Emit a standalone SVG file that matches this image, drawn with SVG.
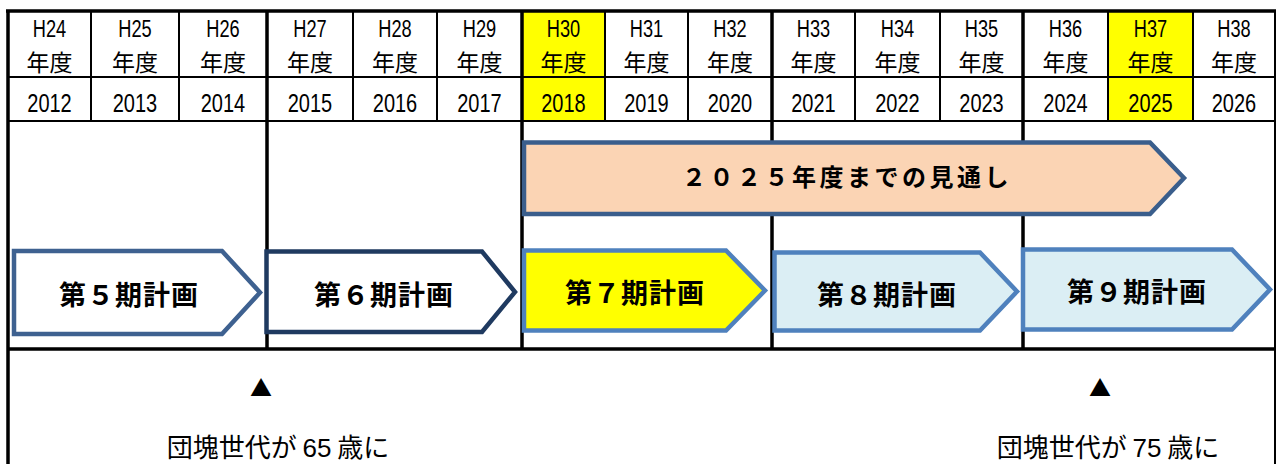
<svg xmlns="http://www.w3.org/2000/svg" width="1276" height="464" viewBox="0 0 1276 464">
<style>
.lat{font-family:"Liberation Sans",Arial,sans-serif;font-size:24px;fill:#000;text-anchor:middle}
.cjk{font-family:"Noto Sans CJK JP",sans-serif;font-size:23px;fill:#000;text-anchor:middle}
.yr{font-family:"Liberation Sans",Arial,sans-serif;font-size:25px;fill:#000;text-anchor:middle}
.thin{stroke:#000;stroke-width:2;fill:none}
.thick{stroke:#000;stroke-width:3.5;fill:none}
.plan{font-family:"Noto Sans CJK JP",sans-serif;font-weight:700;font-size:27px;letter-spacing:1px;fill:#000;text-anchor:middle}
.note{font-family:"Noto Sans CJK JP",sans-serif;font-size:26px;fill:#000;text-anchor:middle}
.num{font-family:"Liberation Sans",Arial,sans-serif}
.shape{stroke-width:4.5;stroke-linejoin:miter}
</style>
<rect width="1276" height="464" fill="#fff"/>
<g id="highlights">
<rect x="522" y="11" width="83" height="110" fill="#ffff00"/>
<rect x="1108" y="11" width="85" height="110" fill="#ffff00"/>
</g>
<g id="grid">
<path class="thin" d="M91 11V121M179 11V121M353 11V121M437 11V121M605 11V121M688 11V121M855 11V121M940 11V121M1108 11V121M1193 11V121"/>
<path class="thin" d="M8 77H1275M8 121H1275"/>
<path class="thin" d="M1275 11V464"/>
<path class="thick" d="M267 11V349M522 11V349M772 11V349M1023 11V349"/>
<path class="thick" d="M6 11H1276M8 11V464M8 349H1275"/>
</g>
<g id="header">
<g transform="scale(0.76 1)">
<text class="lat" x="65.13" y="37">H24</text>
<text class="lat" x="177.63" y="37">H25</text>
<text class="lat" x="293.42" y="37">H26</text>
<text class="lat" x="407.89" y="37">H27</text>
<text class="lat" x="519.74" y="37">H28</text>
<text class="lat" x="630.92" y="37">H29</text>
<text class="lat" x="741.45" y="37">H30</text>
<text class="lat" x="850.66" y="37">H31</text>
<text class="lat" x="960.53" y="37">H32</text>
<text class="lat" x="1070.39" y="37">H33</text>
<text class="lat" x="1180.92" y="37">H34</text>
<text class="lat" x="1291.45" y="37">H35</text>
<text class="lat" x="1401.97" y="37">H36</text>
<text class="lat" x="1513.82" y="37">H37</text>
<text class="lat" x="1623.68" y="37">H38</text>
</g>
<text class="cjk" x="49.5" y="71">年度</text>
<text class="cjk" x="135" y="71">年度</text>
<text class="cjk" x="223" y="71">年度</text>
<text class="cjk" x="310" y="71">年度</text>
<text class="cjk" x="395" y="71">年度</text>
<text class="cjk" x="479.5" y="71">年度</text>
<text class="cjk" x="563.5" y="71">年度</text>
<text class="cjk" x="646.5" y="71">年度</text>
<text class="cjk" x="730" y="71">年度</text>
<text class="cjk" x="813.5" y="71">年度</text>
<text class="cjk" x="897.5" y="71">年度</text>
<text class="cjk" x="981.5" y="71">年度</text>
<text class="cjk" x="1065.5" y="71">年度</text>
<text class="cjk" x="1150.5" y="71">年度</text>
<text class="cjk" x="1234" y="71">年度</text>
<g transform="scale(0.8 1)">
<text class="yr" x="61.88" y="112">2012</text>
<text class="yr" x="168.75" y="112">2013</text>
<text class="yr" x="278.75" y="112">2014</text>
<text class="yr" x="387.5" y="112">2015</text>
<text class="yr" x="493.75" y="112">2016</text>
<text class="yr" x="599.38" y="112">2017</text>
<text class="yr" x="704.38" y="112">2018</text>
<text class="yr" x="808.13" y="112">2019</text>
<text class="yr" x="912.5" y="112">2020</text>
<text class="yr" x="1016.88" y="112">2021</text>
<text class="yr" x="1121.88" y="112">2022</text>
<text class="yr" x="1226.88" y="112">2023</text>
<text class="yr" x="1331.88" y="112">2024</text>
<text class="yr" x="1438.13" y="112">2025</text>
<text class="yr" x="1542.5" y="112">2026</text>
</g>
</g>
<g id="outlook">
<path class="shape" d="M524 142.5H1150L1184 178L1150 214H524Z" fill="#fbd4b4" stroke="#3a5e8c"/>
<text class="plan" x="847" y="186" style="font-size:24px;letter-spacing:3.5px">２０２５年度までの見通し</text>
</g>
<g id="plan5">
<path class="shape" d="M14 251H222L260 292.5L222 334H14Z" fill="#fff" stroke="#3e6190"/>
<text class="plan" x="129" y="305">第５期計画</text>
</g>
<g id="plan6">
<path class="shape" d="M266.5 251.5H482L515 292L482 332H266.5Z" fill="#fff" stroke="#1f3a60"/>
<text class="plan" x="384" y="305">第６期計画</text>
</g>
<g id="plan7">
<path class="shape" d="M524 250.5H726L765 290.5L726 330.5H524Z" fill="#ffff00" stroke="#4f81bd"/>
<text class="plan" x="635" y="303">第７期計画</text>
</g>
<g id="plan8">
<path class="shape" d="M774.5 252.5H980L1017 291.5L980 330.5H774.5Z" fill="#dbeef4" stroke="#4f81bd"/>
<text class="plan" x="887" y="305">第８期計画</text>
</g>
<g id="plan9">
<path class="shape" d="M1023 249.5H1232L1270 289.5L1232 329.5H1023Z" fill="#dbeef4" stroke="#4f81bd"/>
<text class="plan" x="1137" y="302">第９期計画</text>
</g>
<g id="milestone65">
<text class="note" x="261" y="396" style="font-size:22px">▲</text>
<text class="note" x="278" y="457">団塊世代が <tspan class="num">65</tspan> 歳に</text>
</g>
<g id="milestone75">
<text class="note" x="1100" y="396" style="font-size:22px">▲</text>
<text class="note" x="1108" y="457">団塊世代が <tspan class="num">75</tspan> 歳に</text>
</g>
</svg>
